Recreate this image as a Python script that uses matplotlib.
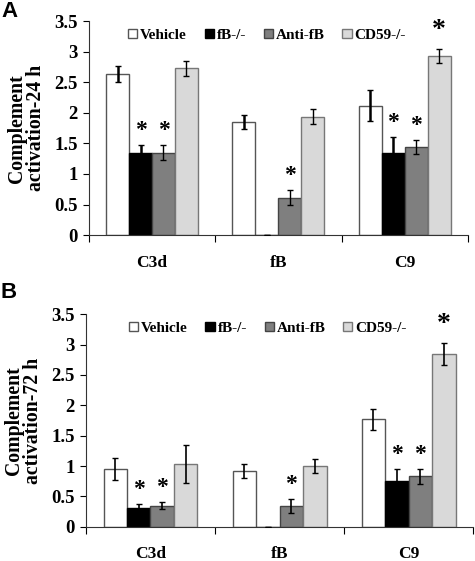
import matplotlib
matplotlib.use('Agg')
import matplotlib.pyplot as plt
import numpy as np

# Data
categories = ['C3d', 'fB', 'C9']
groups = ['Vehicle', 'fB-/-', 'Anti-fB', 'CD59-/-']

vals_24h = {
    'Vehicle': [2.64, 1.85, 2.12],
    'fB-/-':   [1.34, 0.0, 1.35],
    'Anti-fB': [1.35, 0.61, 1.44],
    'CD59-/-': [2.73, 1.94, 2.93],
}
err_24h = {
    'Vehicle': [0.13, 0.12, 0.25],
    'fB-/-':   [0.13, 0.0, 0.25],
    'Anti-fB': [0.12, 0.12, 0.12],
    'CD59-/-': [0.12, 0.12, 0.12],
}
sig_24h = {
    'Vehicle': [False, False, False],
    'fB-/-':   [True, False, True],
    'Anti-fB': [True, True, True],
    'CD59-/-': [False, False, True],
}

vals_72h = {
    'Vehicle': [0.95, 0.92, 1.77],
    'fB-/-':   [0.31, 0.0, 0.76],
    'Anti-fB': [0.35, 0.34, 0.83],
    'CD59-/-': [1.03, 1.00, 2.85],
}
err_72h = {
    'Vehicle': [0.18, 0.12, 0.17],
    'fB-/-':   [0.06, 0.0, 0.19],
    'Anti-fB': [0.05, 0.12, 0.12],
    'CD59-/-': [0.31, 0.12, 0.18],
}
sig_72h = {
    'Vehicle': [False, False, False],
    'fB-/-':   [True, False, True],
    'Anti-fB': [True, True, True],
    'CD59-/-': [False, False, True],
}

face_colors = {'Vehicle': 'white', 'fB-/-': 'black', 'Anti-fB': '#7f7f7f', 'CD59-/-': '#d9d9d9'}
edge_colors = {'Vehicle': '#555555', 'fB-/-': 'black', 'Anti-fB': '#444444', 'CD59-/-': '#777777'}

serif = ['Liberation Serif', 'DejaVu Serif']


def draw_panel(ax, vals, errs, sigs, ylabel, err_lw):
    x = np.arange(len(categories))
    w = 0.182
    for i, g in enumerate(groups):
        pos = x + (i - 1.5) * w
        ax.bar(pos, vals[g], w, color=face_colors[g], edgecolor=edge_colors[g],
               linewidth=1.0, label=g, zorder=2)
        ax.errorbar(pos, vals[g], yerr=errs[g], fmt='none', ecolor='black',
                    elinewidth=err_lw[g], capsize=2, capthick=1.0, zorder=3)
        for j in range(len(categories)):
            if sigs[g][j]:
                big = (g == 'CD59-/-')
                ax.text(pos[j], vals[g][j] + errs[g][j] + (0.1 if big else 0.07), '*',
                        ha='center', va='bottom', fontsize=20 if big else 17,
                        fontweight='bold', family=serif)

    ax.set_xlim(-0.5, 2.5)
    ax.set_ylim(0, 3.5)
    ax.set_yticks(np.arange(0, 3.51, 0.5))
    ax.set_yticklabels(['0', '0.5', '1', '1.5', '2', '2.5', '3', '3.5'])
    ax.set_xticks(x)
    ax.set_xticklabels(categories)
    ax.set_xticks([-0.5, 0.5, 1.5, 2.5], minor=True)
    ax.tick_params(axis='x', which='major', length=0, pad=14, labelsize=12.5)
    ax.tick_params(axis='x', which='minor', length=5, direction='out', width=0.8)
    ax.tick_params(axis='y', length=4, direction='out', width=0.8, labelsize=13.5, pad=4)
    for lab in ax.get_xticklabels() + ax.get_yticklabels():
        lab.set_fontweight('bold')
        lab.set_family(serif)
    ax.spines['top'].set_visible(False)
    ax.spines['right'].set_visible(False)
    ax.spines['left'].set_color('#333333')
    ax.spines['bottom'].set_color('#333333')
    ax.set_ylabel(ylabel, fontsize=14.2, fontweight='bold', family=serif,
                  linespacing=0.95, labelpad=6)
    ax.legend(loc='upper center', bbox_to_anchor=(0.47, 1.03), ncol=4, frameon=False,
              handlelength=0.6, handleheight=0.6, handletextpad=0.2,
              columnspacing=1.15, prop={'family': serif, 'weight': 'bold', 'size': 11})


fig = plt.figure(figsize=(4.75, 5.61), dpi=100)
axA = fig.add_axes([0.187, 0.581, 0.798, 0.381])
axB = fig.add_axes([0.181, 0.061, 0.815, 0.379])

draw_panel(axA, vals_24h, err_24h, sig_24h, 'Complement\nactivation-24 h',
           {'Vehicle': 1.8, 'fB-/-': 1.8, 'Anti-fB': 1.0, 'CD59-/-': 1.0})
draw_panel(axB, vals_72h, err_72h, sig_72h, 'Complement\nactivation-72 h',
           {'Vehicle': 1.2, 'fB-/-': 1.2, 'Anti-fB': 1.2, 'CD59-/-': 1.2})

fig.text(0.002, 0.999, 'A', fontsize=16, fontweight='bold', family='Liberation Sans', va='top')
fig.text(0.002, 0.497, 'B', fontsize=16, fontweight='bold', family='Liberation Sans', va='top')

fig.savefig('out.png', dpi=100)
